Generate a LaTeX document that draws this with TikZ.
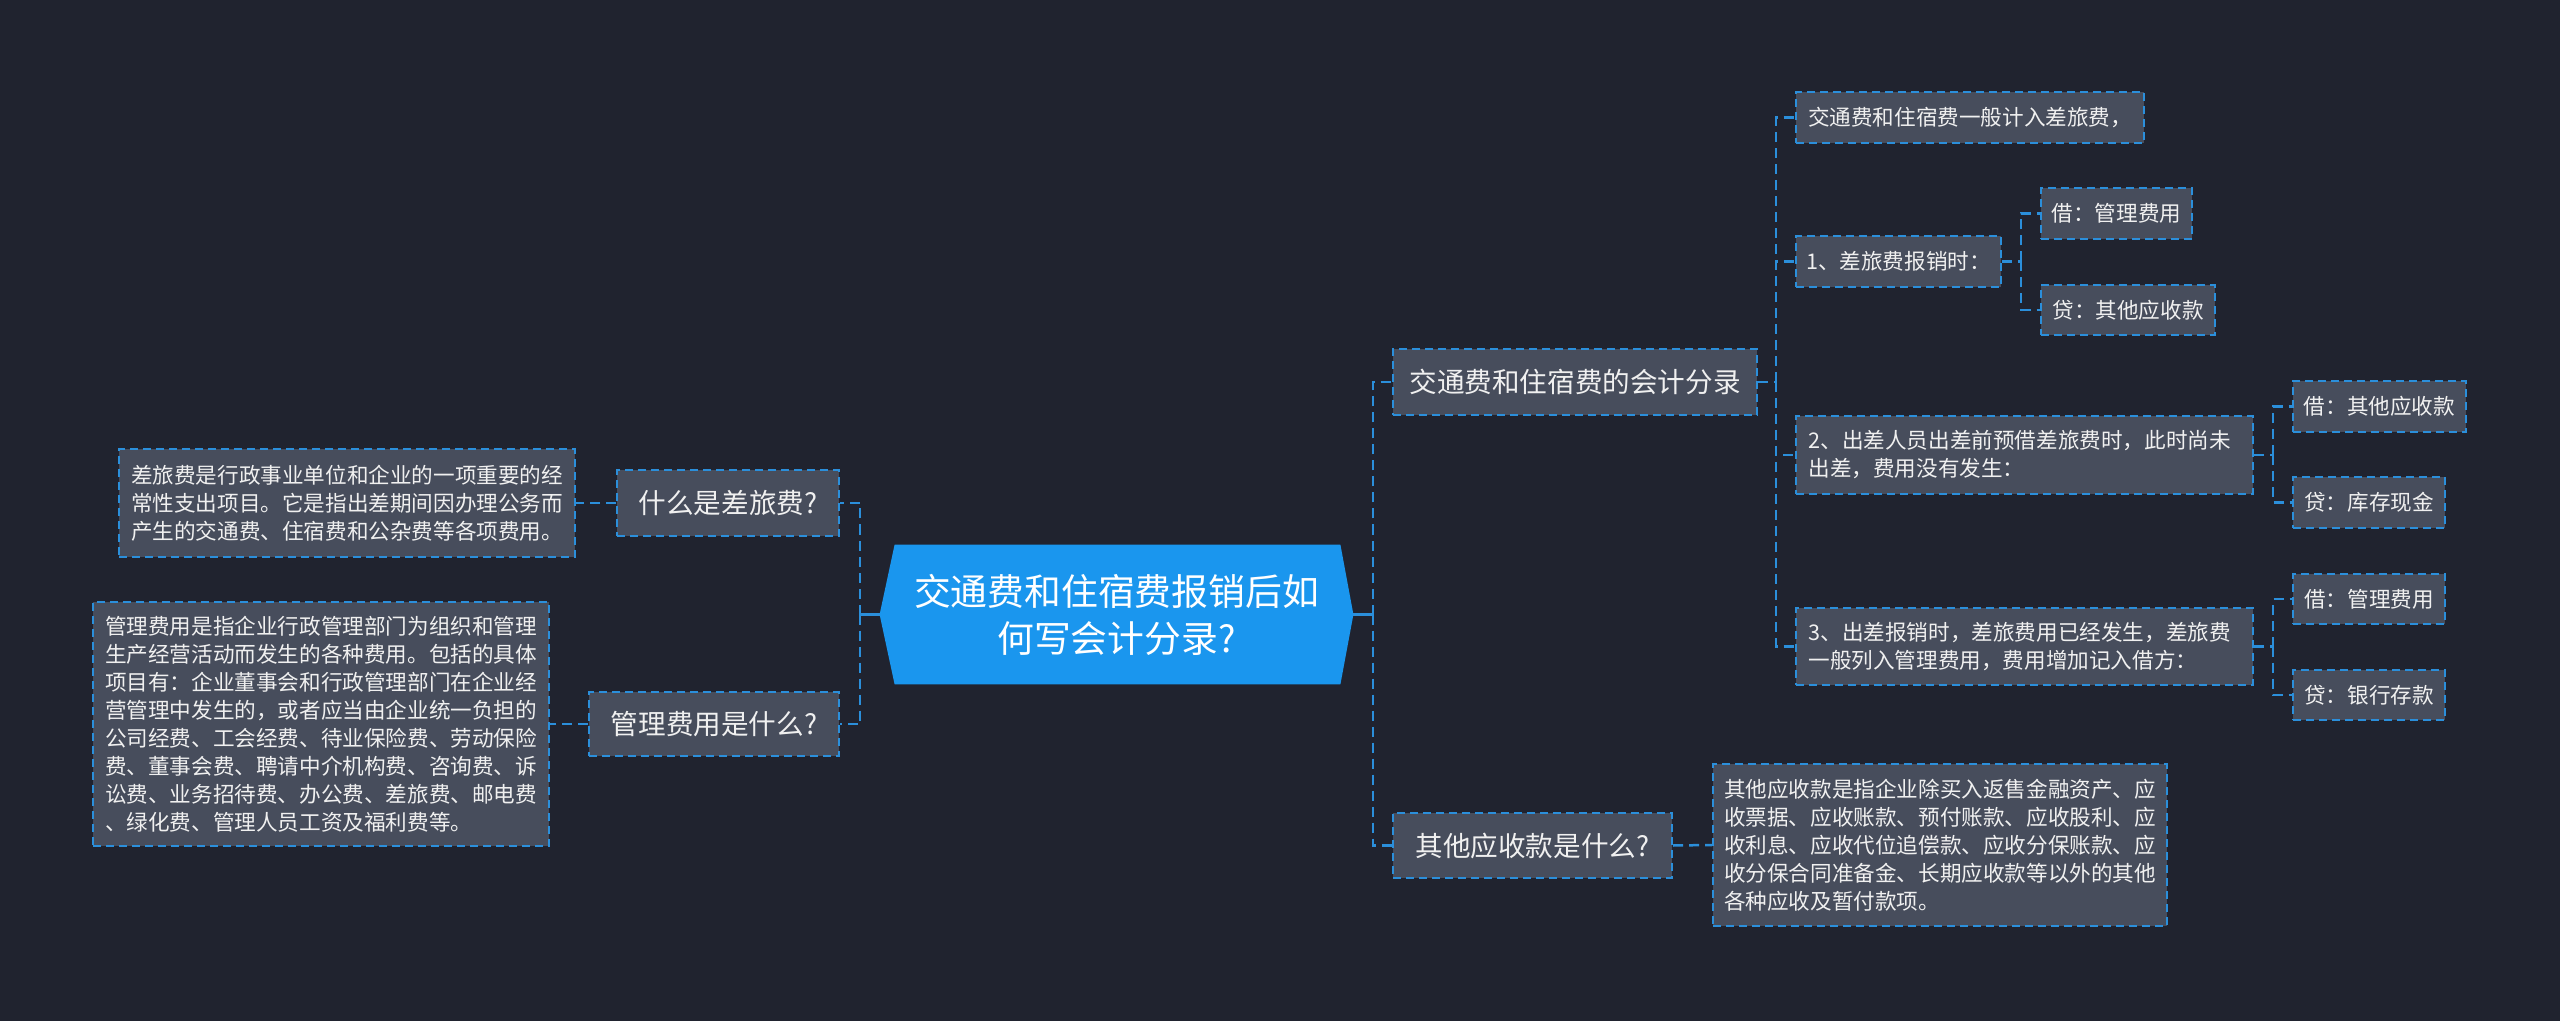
\documentclass[tikz,border=0pt]{standalone}
\usepackage{fontspec}
\newfontfamily\cjk{Noto Sans CJK SC}
\definecolor{bgc}{HTML}{20232F}
\definecolor{boxfill}{HTML}{474D5C}
\definecolor{lineblue}{HTML}{2B8FDB}
\definecolor{cblue}{HTML}{1A96EE}
\definecolor{txt}{HTML}{F0F0F0}
\pgfdeclarelayer{bgl}
\pgfdeclarelayer{mid}
\pgfsetlayers{bgl,mid,main}
\tikzset{
  box/.style={draw=lineblue, line width=1pt, dash pattern=on 4pt off 2.5pt,
    fill=boxfill, text=txt, inner sep=0pt},
  smallbox/.style={box, font=\cjk\fontsize{10.8pt}{14pt}\selectfont},
  descbox/.style={smallbox, align=left},
  midbox/.style={box, font=\cjk\fontsize{13.8pt}{17pt}\selectfont},
  centernode/.style={inner sep=0pt, text=white, align=center,
    font=\cjk\fontsize{18.4pt}{23.5pt}\selectfont},
  conn/.style={draw=lineblue, line width=1.25pt, dash pattern=on 5pt off 3pt},
  connsolid/.style={draw=lineblue, line width=1.25pt}
}
\begin{document}
\begin{tikzpicture}[x=0.5pt,y=-0.5pt]
\begin{pgfonlayer}{bgl}
\fill[bgc] (0,0) rectangle (2560,1021);
\end{pgfonlayer}
\useasboundingbox (0,0) rectangle (2560,1021);

% trunk coordinates
\coordinate (lt) at (860,0);
\coordinate (rt) at (1373,0);
\coordinate (j1) at (1776,0);
\coordinate (j2) at (2021,0);
\coordinate (j3) at (2273,0);

% central
\node[centernode, minimum width=236.5pt, minimum height=69.5pt] (c) at (1116.5,614.5)
  {交通费和住宿费报销后如\\何写会计分录?};
\begin{pgfonlayer}{mid}
\fill[cblue] (c.west) -- ([xshift=7.5pt]c.north west) -- ([xshift=-6.5pt]c.north east)
  -- (c.east) -- ([xshift=-6.5pt]c.south east) -- ([xshift=7.5pt]c.south west) -- cycle;
\end{pgfonlayer}

% left side
\node[midbox, minimum width=111pt, minimum height=33pt] (L1) at (728,503) {什么是差旅费?};
\node[descbox, text width=216pt, minimum width=228pt, minimum height=54pt] (L1d) at (347,503)
  {差旅费是行政事业单位和企业的一项重要的经\\常性支出项目。它是指出差期间因办理公务而\\产生的交通费、住宿费和公杂费等各项费用。};
\node[midbox, minimum width=125pt, minimum height=32pt] (L2) at (714,724) {管理费用是什么?};
\node[descbox, text width=216pt, minimum width=228pt, minimum height=122pt] (L2d) at (321,724)
  {管理费用是指企业行政管理部门为组织和管理\\生产经营活动而发生的各种费用。包括的具体\\项目有：企业董事会和行政管理部门在企业经\\营管理中发生的，或者应当由企业统一负担的\\公司经费、工会经费、待业保险费、劳动保险\\费、董事会费、聘请中介机构费、咨询费、诉\\讼费、业务招待费、办公费、差旅费、邮电费\\、绿化费、管理人员工资及福利费等。};

% right side
\node[midbox, minimum width=182pt, minimum height=33pt] (R1) at (1575,382) {交通费和住宿费的会计分录};
\node[midbox, minimum width=139.5pt, minimum height=32.5pt] (R2) at (1532.5,845.5) {其他应收款是什么?};
\node[descbox, text width=216pt, minimum width=227pt, minimum height=81pt] (R2d) at (1940,845)
  {其他应收款是指企业除买入返售金融资产、应\\收票据、应收账款、预付账款、应收股利、应\\收利息、应收代位追偿款、应收分保账款、应\\收分保合同准备金、长期应收款等以外的其他\\各种应收及暂付款项。};

\node[smallbox, minimum width=174pt, minimum height=25.5pt] (R1a) at (1970,117.5) {交通费和住宿费一般计入差旅费，};
\node[smallbox, minimum width=102.5pt, minimum height=25.5pt] (R1b) at (1898.5,261.5) {1、差旅费报销时：};
\node[smallbox, minimum width=75.5pt, minimum height=25.5pt] (R1b1) at (2116.5,213.5) {借：管理费用};
\node[smallbox, minimum width=87pt, minimum height=25pt] (R1b2) at (2128,310) {贷：其他应收款};

\node[descbox, text width=216pt, minimum width=228.5pt, minimum height=39pt] (R1c) at (2024.5,455)
  {2、出差人员出差前预借差旅费时，此时尚未\\出差，费用没有发生：};
\node[smallbox, minimum width=86.5pt, minimum height=25.5pt] (R1c1) at (2379.5,406.5) {借：其他应收款};
\node[smallbox, minimum width=76pt, minimum height=25.5pt] (R1c2) at (2369,502.5) {贷：库存现金};

\node[descbox, text width=216pt, minimum width=228.5pt, minimum height=38.5pt] (R1d) at (2024.5,646.5)
  {3、出差报销时，差旅费用已经发生，差旅费\\一般列入管理费用，费用增加记入借方：};
\node[smallbox, minimum width=76pt, minimum height=25pt] (R1d1) at (2369,599) {借：管理费用};
\node[smallbox, minimum width=76pt, minimum height=25pt] (R1d2) at (2369,695) {贷：银行存款};

% connectors
\draw[connsolid] (c.west) -- (c.west -| lt);
\draw[connsolid] (c.east) -- (c.east -| rt);
\draw[conn] (c.west -| lt) |- (L1.east);
\draw[conn] (c.west -| lt) |- (L2.east);
\draw[conn] (L1.west) -- (L1d.east);
\draw[conn] (L2.west) -- (L2d.east);

\draw[conn] (c.east -| rt) |- (R1.west);
\draw[conn] (c.east -| rt) |- (R2.west);
\draw[conn] (R2.east) -- (R2d.west);

\draw[conn] (R1.east) -- (R1.east -| j1);
\draw[conn] (R1.east -| j1) |- (R1a.west);
\draw[conn] (R1.east -| j1) |- (R1b.west);
\draw[conn] (R1.east -| j1) |- (R1c.west);
\draw[conn] (R1.east -| j1) |- (R1d.west);

\draw[conn] (R1b.east) -- (R1b.east -| j2);
\draw[conn] (R1b.east -| j2) |- (R1b1.west);
\draw[conn] (R1b.east -| j2) |- (R1b2.west);

\draw[conn] (R1c.east) -- (R1c.east -| j3);
\draw[conn] (R1c.east -| j3) |- (R1c1.west);
\draw[conn] (R1c.east -| j3) |- (R1c2.west);

\draw[conn] (R1d.east) -- (R1d.east -| j3);
\draw[conn] (R1d.east -| j3) |- (R1d1.west);
\draw[conn] (R1d.east -| j3) |- (R1d2.west);
\end{tikzpicture}
\end{document}
